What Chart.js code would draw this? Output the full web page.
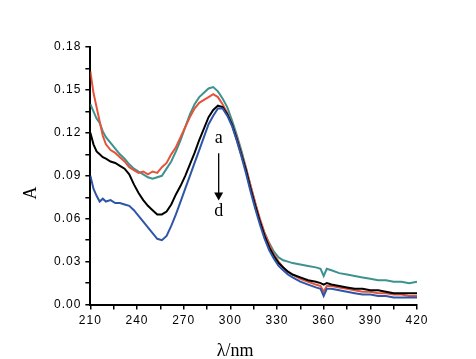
<!DOCTYPE html>
<html><head><meta charset="utf-8">
<script src="https://cdn.jsdelivr.net/npm/chart.js@4/dist/chart.umd.min.js"></script>
<style>html,body{margin:0;padding:0;background:#fff}#c{display:block}</style>
</head><body>
<canvas id="c" width="476" height="359"></canvas>
<script>
const wavelengths = [210,212,214,216,218,220,223,226,229,232,235,238,241,244,247,250,253,256,259,262,265,268,271,274,277,280,283,286,289,292,295,298,301,304,307,310,313,316,319,322,325,328,331,334,337,340,345,350,355,358,360,362,365,370,375,380,385,390,395,400,405,410,415,420];
const seriesA_red = [0.163,0.148,0.138,0.128,0.118,0.112,0.108,0.106,0.103,0.100,0.096,0.094,0.092,0.093,0.091,0.093,0.092,0.096,0.099,0.105,0.110,0.117,0.124,0.131,0.137,0.141,0.143,0.145,0.147,0.145,0.140,0.134,0.126,0.117,0.106,0.095,0.083,0.071,0.060,0.050,0.042,0.035,0.030,0.026,0.023,0.021,0.018,0.016,0.014,0.013,0.009,0.013,0.013,0.012,0.011,0.010,0.009,0.009,0.008,0.008,0.007,0.007,0.006,0.006];
const seriesB_teal = [0.140,0.135,0.130,0.127,0.121,0.117,0.113,0.109,0.105,0.102,0.098,0.095,0.093,0.091,0.089,0.088,0.089,0.090,0.095,0.100,0.107,0.115,0.124,0.133,0.140,0.145,0.148,0.151,0.152,0.149,0.144,0.138,0.129,0.119,0.108,0.096,0.083,0.071,0.059,0.050,0.043,0.037,0.033,0.031,0.030,0.029,0.028,0.027,0.026,0.025,0.020,0.025,0.024,0.022,0.021,0.020,0.019,0.018,0.017,0.017,0.016,0.016,0.015,0.016];
const seriesC_black = [0.120,0.112,0.107,0.105,0.103,0.102,0.100,0.099,0.097,0.095,0.091,0.084,0.078,0.073,0.069,0.066,0.063,0.063,0.065,0.070,0.077,0.083,0.090,0.098,0.106,0.115,0.123,0.131,0.136,0.139,0.138,0.133,0.126,0.116,0.105,0.094,0.081,0.069,0.058,0.048,0.040,0.034,0.029,0.026,0.023,0.021,0.019,0.017,0.016,0.015,0.014,0.015,0.014,0.013,0.012,0.011,0.011,0.010,0.010,0.009,0.008,0.008,0.008,0.008];
const seriesD_blue = [0.090,0.081,0.076,0.072,0.074,0.072,0.073,0.071,0.071,0.070,0.069,0.066,0.062,0.058,0.054,0.050,0.046,0.045,0.048,0.055,0.063,0.072,0.081,0.090,0.099,0.108,0.117,0.126,0.132,0.137,0.137,0.132,0.125,0.115,0.104,0.092,0.079,0.067,0.056,0.046,0.038,0.032,0.027,0.024,0.021,0.019,0.016,0.014,0.012,0.011,0.006,0.011,0.011,0.010,0.009,0.008,0.007,0.007,0.006,0.006,0.005,0.005,0.005,0.005];
const xTickLabels = ['210','240','270','300','330','360','390','420'];
const yTickLabels = ['0.00','0.03','0.06','0.09','0.12','0.15','0.18'];
const xTitle = 'λ/nm', yTitle = 'A';
const annotationTop = 'a', annotationBottom = 'd';

function pts(arr){ return wavelengths.map((w,i)=>({x:w,y:arr[i]})); }
const mk = (data,color)=>({data:pts(data),borderColor:color,borderWidth:2,pointRadius:0,tension:0,fill:false});

const spacingPlugin = {
  id:'spacing',
  beforeUpdate(chart){ chart.ctx.letterSpacing='1px'; },
  beforeDraw(chart){ chart.ctx.letterSpacing='1px'; }
};

const textPlugin = {
  id:'textPlugin',
  afterDraw(chart){
    const {ctx, scales:{x,y}, chartArea} = chart;
    ctx.save();
    ctx.letterSpacing='0px';
    ctx.fillStyle='#000'; ctx.strokeStyle='#000';
    const px = x.getPixelForValue(292.5);
    ctx.font='18px "Liberation Serif", serif';
    ctx.textAlign='center'; ctx.textBaseline='middle';
    ctx.fillText(annotationTop, px, y.getPixelForValue(0.1164));
    ctx.fillText(annotationBottom, px, y.getPixelForValue(0.065));
    const y0 = y.getPixelForValue(0.1058), y1 = y.getPixelForValue(0.0728);
    ctx.lineWidth=1.3;
    ctx.beginPath(); ctx.moveTo(px,y0); ctx.lineTo(px,y1-7); ctx.stroke();
    ctx.beginPath(); ctx.moveTo(px-4.5,y1-8); ctx.lineTo(px+4.5,y1-8); ctx.lineTo(px,y1); ctx.closePath(); ctx.fill();
    ctx.font='18px "Liberation Serif", serif';
    ctx.textBaseline='alphabetic';
    ctx.fillText(xTitle, x.getPixelForValue(303), chartArea.bottom + 51);
    ctx.save();
    ctx.translate(chartArea.left - 59, y.getPixelForValue(0.078));
    ctx.rotate(-Math.PI/2);
    ctx.textBaseline='middle';
    ctx.fillText(yTitle, 0, 0);
    ctx.restore();
    ctx.restore();
  }
};

new Chart(document.getElementById('c'),{
  type:'line',
  data:{datasets:[mk(seriesD_blue,'#2f55a8'),mk(seriesC_black,'#000000'),mk(seriesA_red,'#e4533a'),mk(seriesB_teal,'#3d9290')]},
  options:{
    responsive:false, animation:false,
    layout:{padding:{left:50,right:59,top:47,bottom:27}},
    plugins:{legend:{display:false},tooltip:{enabled:false}},
    scales:{
      x:{type:'linear',min:210,max:420,
        border:{color:'#000',width:2},
        grid:{drawOnChartArea:false,drawTicks:true,tickLength:5,color:'#000',lineWidth:1.5},
        ticks:{stepSize:15,autoSkip:false,maxRotation:0,color:'#000',padding:4,
          font:{family:'"Liberation Sans", Arial, sans-serif',size:12},
          callback:(v)=>{const i=(v-210)/30; return Number.isInteger(i)?xTickLabels[i]:'';}},
        title:{display:false}
      },
      y:{type:'linear',min:0,max:0.18,
        border:{color:'#000',width:2},
        grid:{drawOnChartArea:false,drawTicks:true,tickLength:5,color:'#000',lineWidth:1.5},
        ticks:{stepSize:0.015,autoSkip:false,color:'#000',padding:4,
          font:{family:'"Liberation Sans", Arial, sans-serif',size:12},
          callback:(v,i)=>i%2===0?yTickLabels[i/2]:''},
        title:{display:false}
      }
    }
  },
  plugins:[spacingPlugin,textPlugin]
});
</script>
</body></html>
